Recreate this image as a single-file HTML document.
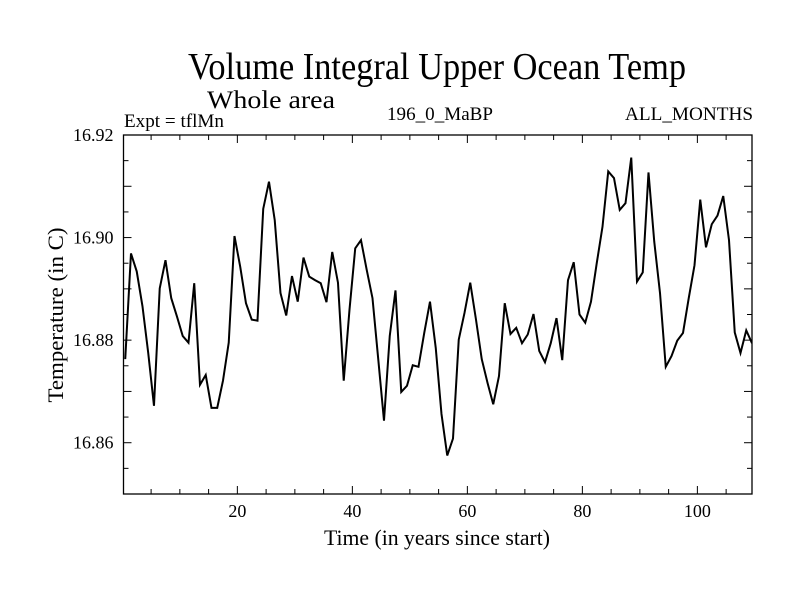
<!DOCTYPE html>
<html><head><meta charset="utf-8"><style>
html,body{margin:0;padding:0;background:#fff}
svg{display:block;font-family:"Liberation Serif",serif}
</style></head><body>
<svg id="chart" width="800" height="600" viewBox="0 0 800 600">
<rect width="800" height="600" fill="#fff"/>
<text x="437" y="79" font-size="38" text-anchor="middle" textLength="498" lengthAdjust="spacingAndGlyphs">Volume Integral Upper Ocean Temp</text>
<text x="207" y="108" font-size="25" textLength="128" lengthAdjust="spacingAndGlyphs">Whole area</text>
<text x="124" y="127" font-size="19" textLength="100" lengthAdjust="spacingAndGlyphs">Expt = tflMn</text>
<text x="440" y="120" font-size="19" text-anchor="middle" textLength="106" lengthAdjust="spacingAndGlyphs">196_0_MaBP</text>
<text x="753" y="120" font-size="19" text-anchor="end" textLength="128" lengthAdjust="spacingAndGlyphs">ALL_MONTHS</text>
<text x="437" y="545" font-size="22" text-anchor="middle" textLength="226" lengthAdjust="spacingAndGlyphs">Time (in years since start)</text>
<text transform="translate(63,315) rotate(-90)" font-size="22" text-anchor="middle" textLength="175" lengthAdjust="spacingAndGlyphs">Temperature (in C)</text>
<g id="axes"></g>
<g id="plot"></g>
</svg>
<script>
const years = [];
const temps = [16.8763,16.8969,16.8934,16.8866,16.8775,16.8672,16.8901,16.8956,16.8882,16.8846,
16.8808,16.8795,16.8911,16.8713,16.8732,16.8668,16.8668,16.8721,16.8795,16.9003,
16.8943,16.8872,16.8840,16.8838,16.9056,16.9109,16.9034,16.8892,16.8848,16.8925,
16.8875,16.8961,16.8924,16.8917,16.8911,16.8874,16.8972,16.8912,16.8721,16.8859,
16.8979,16.8995,16.8937,16.8882,16.8763,16.8643,16.8808,16.8897,16.8699,16.8711,
16.8751,16.8748,16.8814,16.8875,16.8785,16.8656,16.8575,16.8608,16.8801,16.8853,
16.8912,16.8840,16.8763,16.8717,16.8675,16.8730,16.8872,16.8812,16.8824,16.8794,
16.8811,16.8851,16.8779,16.8757,16.8794,16.8843,16.8761,16.8917,16.8952,16.8850,
16.8834,16.8875,16.8950,16.9021,16.9129,16.9116,16.9054,16.9067,16.9156,16.8914,
16.8932,16.9127,16.8992,16.8892,16.8748,16.8769,16.8799,16.8814,16.8882,16.8946,
16.9074,16.8981,16.9026,16.9043,16.9081,16.8995,16.8815,16.8775,16.8819,16.8794];
for (let i = 0; i < temps.length; i++) years.push(i + 0.5);
const xTicks = [20, 40, 60, 80, 100];
const yTicks = [16.86, 16.88, 16.90, 16.92];
const yTickLabels = ["16.86", "16.88", "16.90", "16.92"];

const L = 123.5, R = 752, T = 135, B = 494;
const xMin = 0.2, xMax = 109.5, yMin = 16.85, yMax = 16.92;
const sx = v => L + (v - xMin) / (xMax - xMin) * (R - L);
const sy = v => B - (v - yMin) / (yMax - yMin) * (B - T);
const NS = "http://www.w3.org/2000/svg";
const axes = document.getElementById('axes');
const plot = document.getElementById('plot');
function mk(tag, attrs, parent) {
  const e = document.createElementNS(NS, tag);
  for (const k in attrs) e.setAttribute(k, attrs[k]);
  parent.appendChild(e);
  return e;
}
const frame = mk('rect', {x: L, y: T, width: R - L, height: B - T, fill: 'none', stroke: '#000', 'stroke-width': 1.3}, axes);


for (let v = 5; v < xMax; v += 5) {
  const major = v % 20 === 0;
  const len = major ? 8 : 5;
  const x = sx(v);
  const t1 = mk('line', {x1: x, x2: x, y1: B, y2: B - len, stroke: '#000', 'stroke-width': 1}, axes);
  
  
  const t2 = mk('line', {x1: x, x2: x, y1: T, y2: T + len, stroke: '#000', 'stroke-width': 1}, axes);
  
  
}
xTicks.forEach(v => {
  const t = mk('text', {x: sx(v), y: B + 23, 'font-size': 18, 'text-anchor': 'middle'}, axes);
  t.textContent = String(v);
  
  
});
for (let i = 1; i < 14; i++) {
  const v = yMin + i * 0.005;
  const major = i % 2 === 0;
  const len = major ? 8 : 5;
  const y = sy(v);
  const t1 = mk('line', {x1: L, x2: L + len, y1: y, y2: y, stroke: '#000', 'stroke-width': 1}, axes);
  
  
  const t2 = mk('line', {x1: R, x2: R - len, y1: y, y2: y, stroke: '#000', 'stroke-width': 1}, axes);
  
  
}
yTicks.forEach((v, i) => {
  const t = mk('text', {x: L - 10, y: sy(v) + 6, 'font-size': 18, 'text-anchor': 'end'}, axes);
  t.textContent = yTickLabels[i];
  
  
});
mk('clipPath', {id: 'clip'}, plot);
mk('rect', {x: L, y: T, width: R - L, height: B - T}, plot.lastChild);
const pts = years.map((y, i) => sx(y).toFixed(2) + ',' + sy(temps[i]).toFixed(2)).join(' ');
const line = mk('polyline', {points: pts, fill: 'none', stroke: '#000', 'stroke-width': 2, 'stroke-linejoin': 'miter', 'clip-path': 'url(#clip)'}, plot);


</script>
</body></html>
